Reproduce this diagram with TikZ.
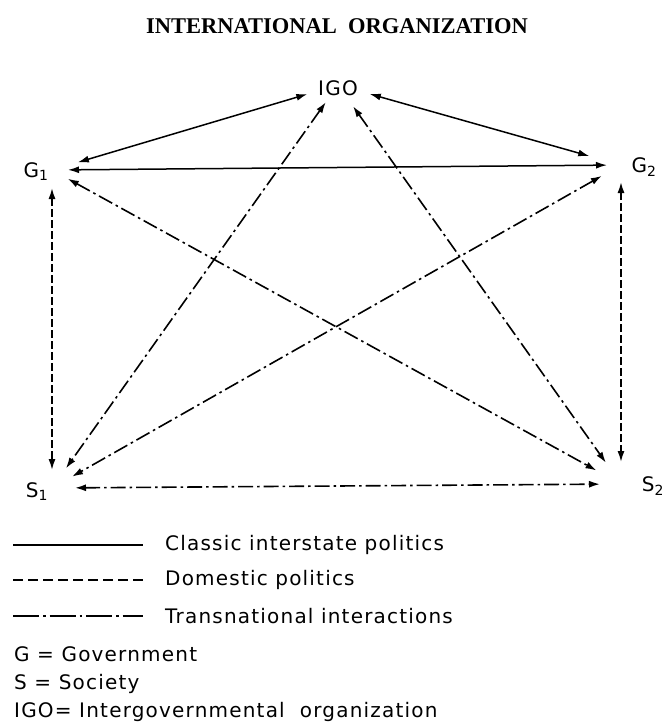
\documentclass[tikz,border=0pt]{standalone}
\usepackage{fontspec}
\setmainfont{Liberation Serif}
\newfontfamily\lettering[LetterSpace=6]{DejaVu Sans}
\usetikzlibrary{arrows.meta}
\begin{document}
\begin{tikzpicture}[x=1pt,y=-1pt,
  tip/.tip={Latex[length=11pt,width=7pt]},
  conn/.style={line width=1.6pt,{tip}-{tip}},
  classic/.style={conn,line width=1.5pt},
  domestic/.style={conn,dash pattern=on 8pt off 3pt},
  transnat/.style={conn,dash pattern=on 15pt off 4pt on 2.5pt off 4pt},
  lbl/.style={font=\lettering\fontsize{20}{22}\selectfont,inner sep=0pt},
  legtext/.style={font=\lettering\fontsize{20}{22}\selectfont,anchor=west,inner sep=0pt},
  legline/.style={line width=1.6pt},
  titlestyle/.style={font=\fontsize{22.5}{26}\selectfont\bfseries,inner sep=0pt}
]
\useasboundingbox (0,0) rectangle (664,724);
\fill[white] (0,0) rectangle (664,724);

% title
\node[titlestyle] (title) at (337,26) {INTERNATIONAL\ \ ORGANIZATION};

% hubs
\coordinate (igo) at (338,85);
\coordinate (g1) at (52,170);
\coordinate (g2) at (621,165);
\coordinate (s1) at (52,488);
\coordinate (s2) at (621,484);

% labels
\node[lbl] (IGOlab) at (338,88) {IGO};
\node[lbl] (G1lab) at (36,172) {G\textsubscript{1}};
\node[lbl] (G2lab) at (644,167) {G\textsubscript{2}};
\node[lbl] (S1lab) at (37,492) {S\textsubscript{1}};
\node[lbl] (S2lab) at (653,486) {S\textsubscript{2}};

% classic interstate politics
\draw[classic,shorten <=32pt,shorten >=27pt] (igo) -- (g1);
\draw[classic,shorten <=33pt,shorten >=33pt] (igo) -- (g2);
\draw[classic,shorten <=16pt,shorten >=14pt] (g1) -- (g2);

% domestic politics
\draw[domestic,shorten <=18pt,shorten >=18pt] (g1) -- (s1);
\draw[domestic,shorten <=17pt,shorten >=22pt] (g2) -- (s2);

% transnational interactions
\draw[transnat,shorten <=23pt,shorten >=21pt] (s1) -- (s2);
\draw[transnat,shorten <=21pt,shorten >=24pt] (igo) -- (s1);
\draw[transnat,shorten <=26pt,shorten >=26pt] (igo) -- (s2);
\draw[transnat,shorten <=18pt,shorten >=28pt] (g1) -- (s2);
\draw[transnat,shorten <=22pt,shorten >=23pt] (g2) -- (s1);

% legend
\coordinate (la1) at (13,545); \coordinate (lb1) at (143,545);
\coordinate (la2) at (13,580); \coordinate (lb2) at (143,580);
\coordinate (la3) at (13,616); \coordinate (lb3) at (143,616);
\draw[legline] (la1) -- (lb1);
\draw[legline,dash pattern=on 10pt off 5pt] (la2) -- (lb2);
\draw[legline,dash pattern=on 26pt off 4pt on 2.5pt off 4pt] (la3) -- (lb3);
\node[legtext] (leg1) at (165,545) {Classic interstate politics};
\node[legtext] (leg2) at (165,580) {Domestic politics};
\node[legtext] (leg3) at (165,616) {Transnational interactions};
\node[legtext] (def1) at (14,654) {G = Government};
\node[legtext] (def2) at (14,684) {S = Society};
\node[legtext] (def3) at (14,712) {IGO= Intergovernmental\ \ organization};
\end{tikzpicture}
\end{document}
